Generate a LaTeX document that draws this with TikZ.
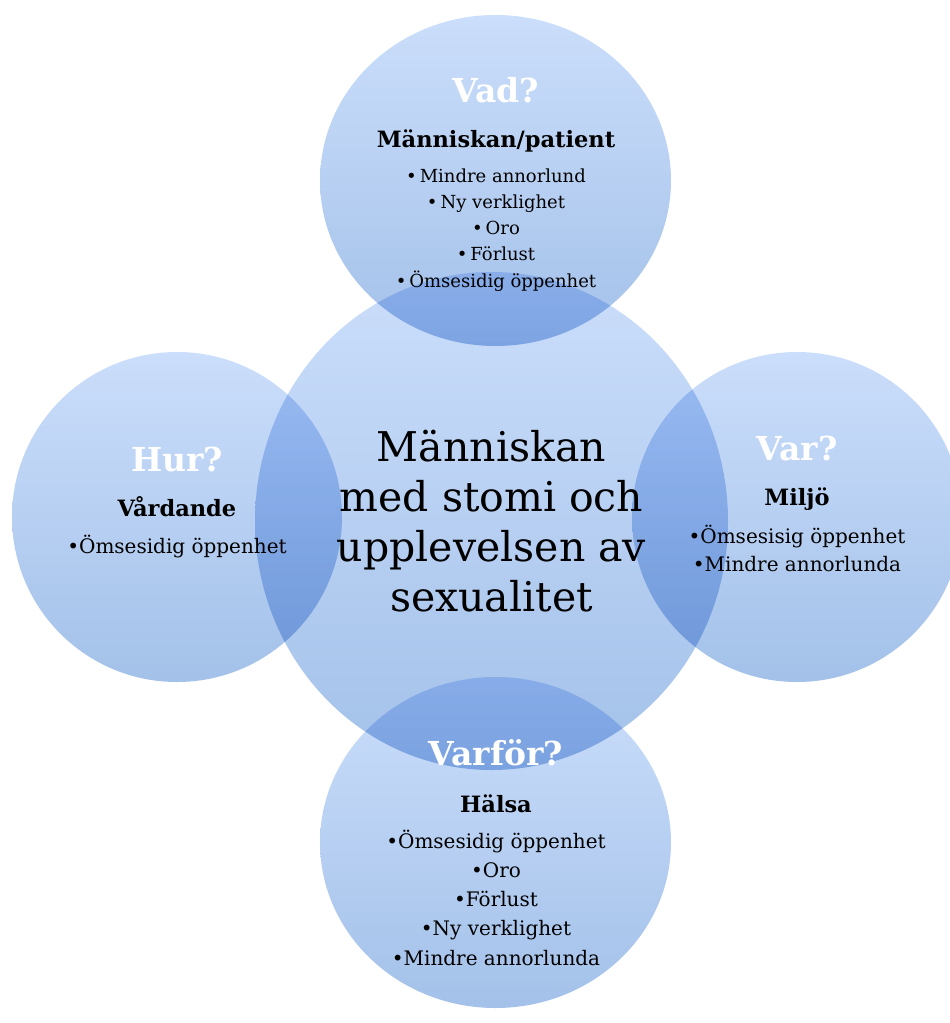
\documentclass[tikz,border=0pt]{standalone}
\usepackage{fontspec}
\setmainfont{DejaVu Serif}
\usetikzlibrary{shapes.geometric}
\definecolor{ringtop}{RGB}{203,222,251}
\definecolor{ringbot}{RGB}{163,193,233}

\begin{document}
\begin{tikzpicture}[
  x=1pt, y=-1pt,
  every node/.style={inner sep=0pt},
  ring/.style 2 args={ellipse, minimum width=#1, minimum height=#2,
    top color=ringtop, bottom color=ringbot, blend mode=multiply},
  ask/.style={anchor=base, text=white, font=\bfseries\fontsize{33}{33}\selectfont},
  theme/.style={anchor=base, font=\bfseries\fontsize{22.5}{22.5}\selectfont},
  point/.style={anchor=base, font=\fontsize{20}{20}\selectfont},
  small point/.style={anchor=base, font=\fontsize{18}{18}\selectfont},
  core text/.style={anchor=base, font=\fontsize{41}{41}\selectfont},
]
\useasboundingbox (0,0) rectangle (950,1023);

% centre
\node[ring={473pt}{498pt}] (core) at (491.5,521) {};
\foreach \t [count=\i] in {Människan, med stomi och, upplevelsen av, sexualitet}
  \node[core text] (core\i) at ({491.5},{461+50.3*(\i-1)}) {\t};

% the four questions
\node[ring={351pt}{331pt}] (vad) at (495.5,180.5) {};
\node[ring={330pt}{330pt}] (hur) at (177,517) {};
\node[ring={330pt}{330pt}] (var) at (797,517) {};
\node[ring={351pt}{331pt}] (varfor) at (495.5,842.5) {};

% Vad?
\node[ask] (vadq) at (496,102) {Vad?};
\node[theme] (vadt) at (496,147) {Människan/patient};
\foreach \t [count=\i] in {Mindre annorlund, Ny verklighet, Oro, Förlust, Ömsesidig öppenhet}
  \node[small point] (vad\i) at ({496},{182+26.25*(\i-1)}) {\textbullet\,\t};

% Hur?
\node[ask] (hurq) at (177,471) {Hur?};
\node[theme] (hurt) at (177,516) {Vårdande};
\node[point] (hur1) at (177,553) {\textbullet Ömsesidig öppenhet};

% Var?
\node[ask] (varq) at (797,460) {Var?};
\node[theme] (vart) at (797,505) {Miljö};
\foreach \t [count=\i] in {Ömsesisig öppenhet, Mindre annorlunda}
  \node[point] (var\i) at ({797},{543+28*(\i-1)}) {\textbullet\t};

% Varför?
\node[ask] (varforq) at (496,765) {Varför?};
\node[theme] (varfort) at (496,812) {Hälsa};
\foreach \t [count=\i] in {Ömsesidig öppenhet, Oro, Förlust, Ny verklighet, Mindre annorlunda}
  \node[point] (varfor\i) at ({496},{848+29.25*(\i-1)}) {\textbullet\t};
\end{tikzpicture}
\end{document}
